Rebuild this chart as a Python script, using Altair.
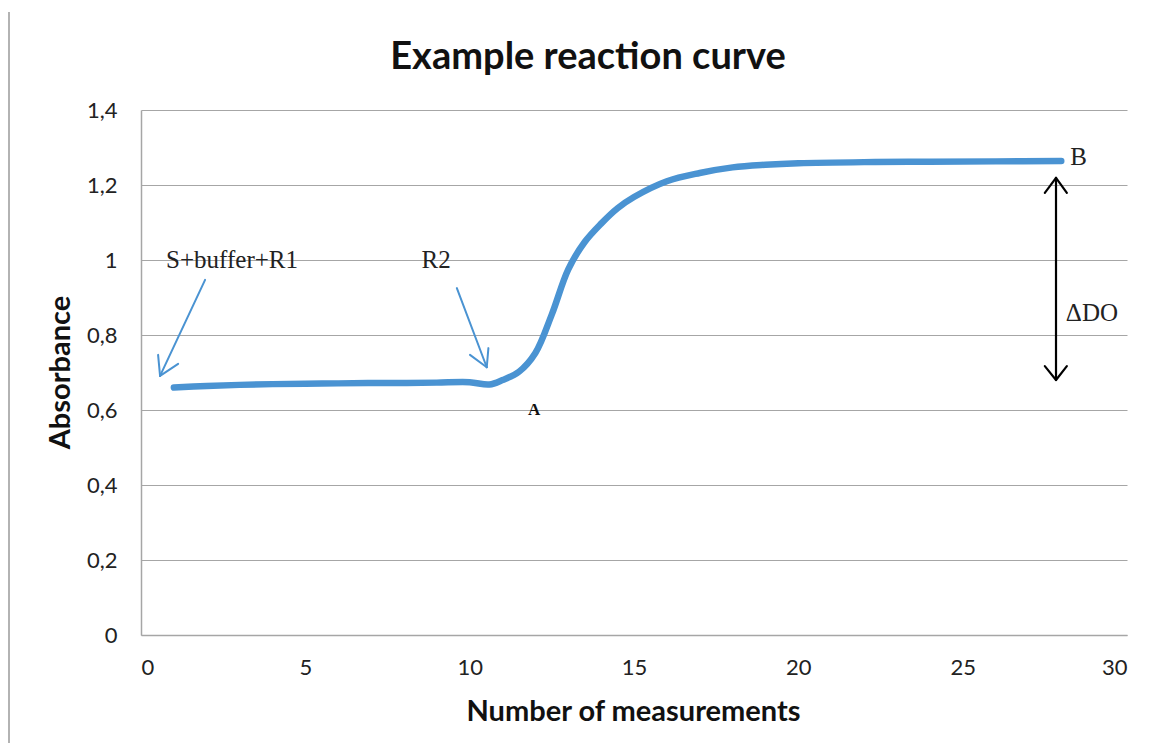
import altair as alt
import pandas as pd

# Reaction curve (number of measurements vs absorbance)
meas = [1, 2, 3, 4, 5, 6, 7, 8, 9, 10, 10.6, 11, 11.5, 12, 12.5, 13, 13.5, 14, 14.5, 15,
        16, 17, 18, 19, 20, 22, 24, 26, 28]
absorb = [0.660, 0.664, 0.667, 0.669, 0.670, 0.671, 0.672, 0.672, 0.673, 0.674, 0.668,
          0.680, 0.702, 0.752, 0.855, 0.975, 1.048, 1.097, 1.138, 1.168, 1.210, 1.232,
          1.247, 1.254, 1.258, 1.261, 1.262, 1.263, 1.264]

# Annotation arrows (segments in data units)
seg_x = [1.95, 0.58, 0.58, 9.61, 10.52, 10.52, 27.84, 27.84, 27.84, 27.84, 27.84]
seg_y = [0.947, 0.691, 0.691, 0.925, 0.714, 0.714, 1.219, 1.219, 1.219, 0.680, 0.680]
seg_x2 = [0.58, 0.52, 1.13, 10.52, 10.01, 10.57, 27.84, 27.50, 28.17, 27.50, 28.17]
seg_y2 = [0.691, 0.747, 0.723, 0.714, 0.747, 0.765, 0.680, 1.179, 1.179, 0.717, 0.717]
seg_color = ["#4A93D2"] * 6 + ["#000000"] * 5
seg_width = [2] * 6 + [2.2] * 5

# Text annotations
c_text = ["S+buffer+R1", "R2"]
c_x = [2.77, 8.98]
c_y = [1.0, 1.0]
l_text = ["B", "ΔDO"]
l_x = [28.27, 28.14]
l_y = [1.275, 0.859]
a_text = ["A"]
a_x = [11.96]
a_y = [0.60]

y_ticks = [0, 0.2, 0.4, 0.6, 0.8, 1.0, 1.2, 1.4]
x_ticks = [0, 5, 10, 15, 20, 25, 30]

curve = pd.DataFrame({"x": meas, "y": absorb})
segs = pd.DataFrame({"x": seg_x, "y": seg_y, "x2": seg_x2, "y2": seg_y2,
                     "c": seg_color, "w": seg_width})
ctext = pd.DataFrame({"x": c_x, "y": c_y, "t": c_text})
ltext = pd.DataFrame({"x": l_x, "y": l_y, "t": l_text})
atext = pd.DataFrame({"x": a_x, "y": a_y, "t": a_text})

xenc = alt.X("x:Q", scale=alt.Scale(domain=[0, 30], nice=False),
             axis=alt.Axis(values=x_ticks, grid=False, title="Number of measurements",
                           titleX=492, titleY=76, titleBaseline="middle"))
yenc = alt.Y("y:Q", scale=alt.Scale(domain=[0, 1.4], nice=False),
             axis=alt.Axis(values=y_ticks, grid=True, title="Absorbance",
                           labelExpr="replace(format(datum.value, '~g'), '.', ',')",
                           titleX=-81, titleY=262, titleBaseline="middle", titleAngle=-90))

line = alt.Chart(curve).mark_line(color="#4A93D2", strokeWidth=6.5, strokeCap="round",
                                  interpolate="catmull-rom").encode(x=xenc, y=yenc)

rules = alt.Chart(segs).mark_rule(strokeCap="round").encode(
    x=xenc, y=yenc, x2="x2:Q", y2="y2:Q",
    color=alt.Color("c:N", scale=None),
    strokeWidth=alt.StrokeWidth("w:Q", scale=None))

serif_c = alt.Chart(ctext).mark_text(font="Liberation Serif", fontSize=25, align="center",
                                     baseline="middle", color="#222222").encode(
    x=xenc, y=yenc, text="t:N")
serif_l = alt.Chart(ltext).mark_text(font="Liberation Serif", fontSize=25, align="left",
                                     baseline="middle", color="#222222").encode(
    x=xenc, y=yenc, text="t:N")
a_lbl = alt.Chart(atext).mark_text(font="Liberation Serif", fontSize=17, fontWeight="bold",
                                   align="center", baseline="middle", color="#111111").encode(
    x=xenc, y=yenc, text="t:N")

border = alt.Chart(alt.Data(values=[{}])).mark_rule(color="#9a9a9a", strokeWidth=1.5).encode(
    x=alt.value(-132), y=alt.value(-98), y2=alt.value(640))

chart = alt.layer(border, line, rules, serif_c, serif_l, a_lbl).properties(
    width=986, height=525,
    autosize=alt.AutoSizeParams(type="none"),
    padding={"left": 133, "top": 102, "right": 23, "bottom": 108},
    title=alt.TitleParams("Example reaction curve", font="Lato", fontSize=38,
                          fontWeight="bold", color="#111111", anchor="middle",
                          frame="group", dx=-46, dy=106, offset=40),
).configure_view(stroke=None).configure_axis(
    domainColor="#a6a6a6", domainWidth=1.5, gridColor="#a6a6a6", gridWidth=1.2,
    ticks=False, labelFont="Lato", labelFontSize=22, labelColor="#222222",
    titleFont="Lato", titleFontSize=29, titleFontWeight="bold", titleColor="#111111",
    labelPadding=22,
).configure_axisY(labelPadding=24)

chart.save("out.html", embed_options={"renderer": "svg", "actions": False})
